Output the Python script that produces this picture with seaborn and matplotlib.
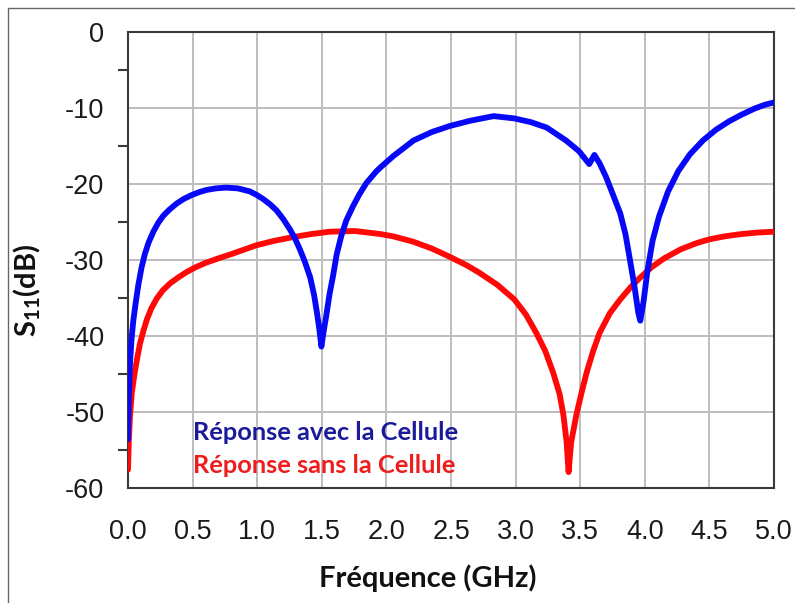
import matplotlib
matplotlib.use("Agg")
import matplotlib.pyplot as plt
import seaborn as sns
import pandas as pd
from matplotlib.lines import Line2D
from matplotlib.ticker import MultipleLocator

# ---- data ----
freq_avec = [0.00, 0.006, 0.0155, 0.028, 0.041, 0.06, 0.08, 0.105, 0.131, 0.16, 0.196, 0.235,
             0.273, 0.32, 0.376, 0.43, 0.49, 0.55, 0.61, 0.68, 0.76, 0.85, 0.944, 1.0,
             1.046, 1.10, 1.15, 1.20, 1.25, 1.29, 1.33, 1.37, 1.41, 1.44, 1.463, 1.48,
             1.497, 1.515, 1.534, 1.56, 1.586, 1.615, 1.65, 1.69, 1.74, 1.79, 1.845, 1.92,
             1.95, 2.05, 2.21, 2.35, 2.49, 2.65, 2.83, 2.99, 3.12, 3.24, 3.39,
             3.49, 3.57, 3.61, 3.65, 3.70, 3.76, 3.81, 3.85, 3.88, 3.92, 3.95, 3.965,
             3.99, 4.02, 4.06, 4.11, 4.18, 4.26, 4.35, 4.45, 4.55, 4.65, 4.75, 4.85,
             4.93, 5.00]
s11_avec = [-53.6, -48.0, -43.6, -40.3, -38.0, -35.6, -33.3, -31.0, -29.2, -27.7, -26.3, -25.1,
            -24.2, -23.4, -22.6, -22.0, -21.5, -21.1, -20.8, -20.6, -20.5, -20.6, -21.0, -21.5,
            -22.0, -22.7, -23.5, -24.6, -25.9, -27.1, -28.6, -30.3, -32.3, -34.6, -37.0, -39.0,
            -41.4, -39.3, -37.4, -34.5, -32.2, -29.3, -26.9, -24.8, -23.0, -21.4, -19.9, -18.4,
            -17.9, -16.4, -14.3, -13.2, -12.4, -11.7, -11.1, -11.4, -11.9, -12.6, -14.3,
            -15.7, -17.4, -16.2, -17.3, -19.1, -21.7, -23.9, -26.6, -29.5, -33.5, -37.0, -38.0,
            -35.5, -31.5, -27.5, -24.3, -21.0, -18.3, -16.1, -14.3, -12.9, -11.8, -10.9, -10.1,
            -9.6, -9.3]

freq_sans = [0.00, 0.006, 0.0155, 0.030, 0.054, 0.075, 0.093, 0.12, 0.145, 0.18, 0.222, 0.27,
             0.325, 0.39, 0.454, 0.52, 0.60, 0.70, 0.79, 0.89, 0.99, 1.13, 1.28, 1.42, 1.56,
             1.755, 1.95, 2.05, 2.205, 2.35, 2.49, 2.62, 2.72, 2.86, 2.99, 3.08,
             3.16, 3.23, 3.29, 3.34, 3.37, 3.395, 3.41, 3.43, 3.47, 3.51, 3.55, 3.60,
             3.65, 3.73, 3.81, 3.89, 3.96, 4.05, 4.15, 4.28, 4.40, 4.50, 4.62, 4.75,
             4.88, 5.00]
s11_sans = [-57.6, -54.0, -50.5, -47.4, -44.6, -42.6, -41.0, -39.3, -37.9, -36.4, -35.1, -34.0,
            -33.1, -32.3, -31.6, -31.0, -30.4, -29.8, -29.3, -28.7, -28.1, -27.5, -27.0, -26.6, -26.3,
            -26.2, -26.6, -26.9, -27.6, -28.5, -29.6, -30.7, -31.7, -33.3, -35.2, -37.2,
            -39.6, -42.0, -44.8, -47.6, -50.4, -54.0, -57.9, -54.0, -50.4, -47.5, -44.8, -42.0,
            -39.6, -37.0, -35.2, -33.6, -32.4, -31.0, -29.8, -28.6, -27.8, -27.3, -26.9, -26.6,
            -26.4, -26.3]

label_avec = "Réponse avec la Cellule"
label_sans = "Réponse sans la Cellule"
x_title = "Fréquence (GHz)"
y_title = r"$\mathbf{S_{11}(dB)}$"
x_ticks = [0.0, 0.5, 1.0, 1.5, 2.0, 2.5, 3.0, 3.5, 4.0, 4.5, 5.0]
x_ticklabels = ["0.0", "0.5", "1.0", "1.5", "2.0", "2.5", "3.0", "3.5", "4.0", "4.5", "5.0"]
y_ticks = [0, -10, -20, -30, -40, -50, -60]
y_ticklabels = ["0", "-10", "-20", "-30", "-40", "-50", "-60"]

df_avec = pd.DataFrame({"f": freq_avec, "s11": s11_avec})
df_sans = pd.DataFrame({"f": freq_sans, "s11": s11_sans})

sns.set_theme(style="white")
plt.rcParams["font.family"] = ["Liberation Sans", "DejaVu Sans"]
plt.rcParams["mathtext.fontset"] = "custom"
plt.rcParams["mathtext.rm"] = "Lato"
plt.rcParams["mathtext.bf"] = "Lato:bold"
plt.rcParams["mathtext.it"] = "Lato:italic"

fig = plt.figure(figsize=(7.95, 6.03), dpi=100)
ax = fig.add_axes([0.161, 0.1907, 0.8126, 0.7567])

sns.lineplot(data=df_sans, x="f", y="s11", ax=ax, color="#ff0808", lw=4.2,
             sort=False, estimator=None, zorder=3)
sns.lineplot(data=df_avec, x="f", y="s11", ax=ax, color="#0808f8", lw=4.2,
             sort=False, estimator=None, zorder=4)

ax.set_xlim(0, 5.0)
ax.set_ylim(-60, 0)
ax.set_xticks(x_ticks)
ax.set_xticklabels(x_ticklabels)
ax.set_yticks(y_ticks)
ax.set_yticklabels(y_ticklabels)
ax.yaxis.set_minor_locator(MultipleLocator(5))

ax.grid(True, which="major", color="#bdbdbd", lw=1.4)
ax.set_axisbelow(True)
for sp in ax.spines.values():
    sp.set_color("#3a3a3a")
    sp.set_linewidth(1.5)
    sp.set_visible(True)

ax.tick_params(axis="both", which="major", direction="out", length=14, width=1.5,
               color="#3a3a3a", labelsize=19.5, labelcolor="#1a1a1a")
ax.tick_params(axis="y", which="major", pad=3)
ax.tick_params(axis="x", which="major", pad=8)
ax.tick_params(axis="y", which="minor", direction="out", length=7, width=1.5,
               color="#3a3a3a", left=True)

ax.set_xlabel(x_title, fontsize=21, fontweight="bold", family="Lato", color="#111111")
ax.xaxis.set_label_coords(0.464, -0.168)
ax.set_ylabel(y_title, fontsize=21, color="#111111")
ax.yaxis.set_label_coords(-0.1316, 0.434)

ax.text(0.1006, 0.1227, label_avec, transform=ax.transAxes, color="#1a1a9a",
        fontsize=18.3, fontweight="bold", family="Lato", va="center", ha="left")
ax.text(0.1006, 0.0504, label_sans, transform=ax.transAxes, color="#ee1c1c",
        fontsize=18.3, fontweight="bold", family="Lato", va="center", ha="left")

# partial figure frame (top and left)
fig.add_artist(Line2D([8 / 795, 1.0], [1 - 7.5 / 603, 1 - 7.5 / 603],
                      transform=fig.transFigure, color="#666666", lw=1.0))
fig.add_artist(Line2D([8 / 795, 8 / 795], [0.0, 1 - 7.5 / 603],
                      transform=fig.transFigure, color="#666666", lw=1.0))

fig.savefig("out.png", dpi=100)
